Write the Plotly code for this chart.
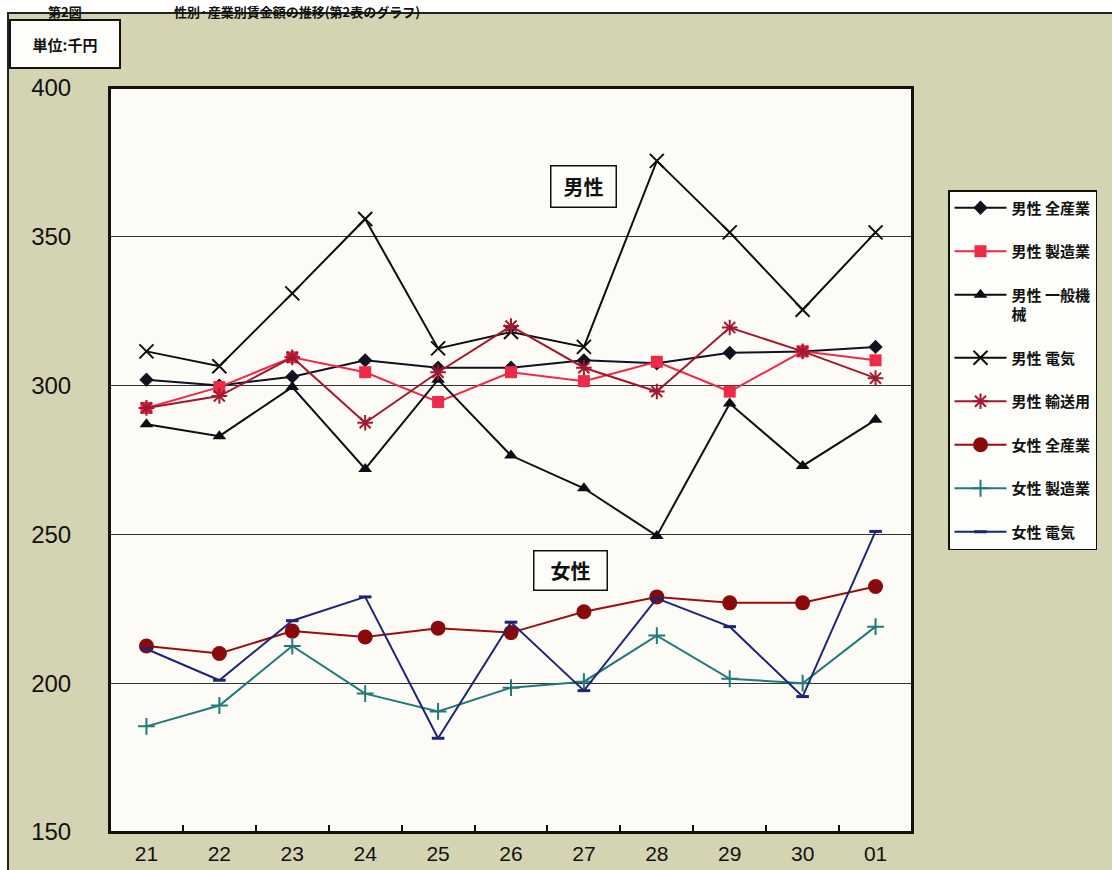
import plotly.graph_objects as go

# 年（平成21年〜令和元年）
years = ["21", "22", "23", "24", "25", "26", "27", "28", "29", "30", "01"]

# 賃金額（単位：千円）
male_all = [302.0, 300.0, 303.0, 308.5, 306.0, 306.0, 308.5, 307.5, 311.0, 311.5, 313.0]
male_mfg = [292.5, 299.5, 309.5, 304.5, 294.5, 304.5, 301.5, 308.0, 298.0, 311.5, 308.5]
male_machinery = [287.0, 283.0, 299.5, 272.0, 302.0, 276.5, 265.5, 249.5, 294.0, 273.0, 288.5]
male_electric = [311.5, 306.5, 331.0, 356.0, 312.5, 318.0, 313.0, 375.5, 351.5, 325.5, 351.5]
male_transport = [292.5, 296.5, 309.5, 287.5, 304.5, 320.0, 306.0, 298.0, 319.5, 311.5, 302.5]
female_all = [212.5, 210.0, 217.5, 215.5, 218.5, 217.0, 224.0, 229.0, 227.0, 227.0, 232.5]
female_mfg = [185.5, 192.5, 212.5, 196.5, 190.5, 198.5, 200.5, 216.0, 201.5, 200.0, 219.0]
female_electric = [211.5, 201.0, 221.0, 229.0, 181.5, 220.5, 197.5, 228.5, 219.0, 195.5, 251.0]

series = [
    dict(name="男性 全産業", y=male_all, color="#111122",
         marker=dict(symbol="diamond", size=11)),
    dict(name="男性 製造業", y=male_mfg, color="#ee2a48",
         marker=dict(symbol="square", size=12)),
    dict(name="男性 一般機<br>械", y=male_machinery, color="#0d0d14",
         marker=dict(symbol="triangle-up", size=12)),
    dict(name="男性 電気", y=male_electric, color="#0d0d0d",
         marker=dict(symbol="x-thin-open", size=14, line=dict(width=2))),
    dict(name="男性 輸送用", y=male_transport, color="#a3182e",
         marker=dict(symbol="asterisk-open", size=13, line=dict(width=2))),
    dict(name="女性 全産業", y=female_all, color="#9a0e10",
         marker=dict(symbol="circle", size=15, color="#8a0a0c")),
    dict(name="女性 製造業", y=female_mfg, color="#1f7b7a",
         marker=dict(symbol="cross-thin-open", size=12, line=dict(width=2))),
    dict(name="女性 電気", y=female_electric, color="#1d2673",
         marker=dict(symbol="line-ew-open", size=9, line=dict(width=3))),
]

JP = "Noto Sans CJK JP"
NUM = "Liberation Sans, Arial, sans-serif"

fig = go.Figure()
for i, s in enumerate(series):
    mk = dict(s["marker"])
    mk.setdefault("color", s["color"])
    if "line" in mk:
        mk["line"] = dict(mk["line"], color=s["color"])
    fig.add_trace(go.Scatter(
        x=years, y=s["y"], name=s["name"], mode="lines+markers",
        line=dict(color=s["color"], width=2),
        marker=mk, legendgroup=f"g{i}",
    ))

# 画面上の位置（px）→ paper 座標
L, R, T, B = 110, 912, 88, 832
W, H = 1112, 870
def px(x):
    return (x - L) / (R - L)
def py(y):
    return (B - y) / (B - T)

shapes = [
    # 外枠（背景）
    dict(type="rect", xref="paper", yref="paper", layer="below",
         x0=px(8), x1=px(1125), y0=py(885), y1=py(13),
         fillcolor="#d5d4b2", line=dict(color="#222222", width=2)),
    # グラフ領域
    dict(type="rect", xref="paper", yref="paper", layer="below",
         x0=0, x1=1, y0=0, y1=1,
         fillcolor="#fcfbf6", line=dict(color="#111111", width=2)),
]

annotations = [
    dict(text="<b>第2図</b>", xref="paper", yref="paper",
         x=px(46), y=py(0), xanchor="left", yanchor="top",
         showarrow=False, font=dict(family=JP, size=13, color="#111111")),
    dict(text="<b>性別·産業別賃金額の推移(第2表のグラフ)</b>", xref="paper", yref="paper",
         x=px(172), y=py(0), xanchor="left", yanchor="top",
         showarrow=False, font=dict(family=JP, size=13, color="#111111")),
    dict(text="<b>単位:千円</b>", xref="paper", yref="paper",
         x=px(65), y=py(44), xanchor="center", yanchor="middle",
         width=106, height=44, showarrow=False,
         bgcolor="#fdfdfa", bordercolor="#111111", borderwidth=2,
         font=dict(family=JP, size=15, color="#111111")),
    dict(text="<b>男性</b>", xref="paper", yref="paper",
         x=px(583.5), y=py(186.5), xanchor="center", yanchor="middle",
         width=62, height=38, showarrow=False,
         bgcolor="#fdfdfa", bordercolor="#111111", borderwidth=1.5,
         font=dict(family=JP, size=20, color="#111111")),
    dict(text="<b>女性</b>", xref="paper", yref="paper",
         x=px(570), y=py(570.5), xanchor="center", yanchor="middle",
         width=70, height=36, showarrow=False,
         bgcolor="#fdfdfa", bordercolor="#111111", borderwidth=1.5,
         font=dict(family=JP, size=20, color="#111111")),
]

fig.update_layout(
    width=W, height=H,
    margin=dict(l=L, r=W - R, t=T, b=H - B, autoexpand=False),
    paper_bgcolor="#ffffff",
    plot_bgcolor="rgba(0,0,0,0)",
    shapes=shapes,
    annotations=annotations,
    showlegend=True,
    legend=dict(
        x=px(948), y=py(190), xanchor="left", yanchor="top",
        bgcolor="#fdfdfa", bordercolor="#111111", borderwidth=1.5,
        font=dict(family=JP, size=15, color="#111111", weight="bold"),
        itemwidth=52, tracegroupgap=21, valign="top",
        traceorder="grouped",
    ),
    xaxis=dict(
        type="category", categoryorder="array", categoryarray=years,
        range=[-0.5, len(years) - 0.5],
        ticks="inside", tickson="boundaries", ticklen=7, tickwidth=1.5,
        tickcolor="#111111", showgrid=False,
        showline=True, linecolor="#111111", linewidth=2, mirror=True,
        tickfont=dict(family=NUM, size=21, color="#111111"),
        ticklabelstandoff=2, zeroline=False,
    ),
    yaxis=dict(
        range=[150, 400], dtick=50, tick0=150,
        showgrid=True, gridcolor="#333333", gridwidth=1.2,
        ticks="", showline=True, linecolor="#111111", linewidth=2, mirror=True,
        tickfont=dict(family=NUM, size=24, color="#111111"),
        ticklabelstandoff=32, zeroline=False,
    ),
)

fig.write_html("out.html")
